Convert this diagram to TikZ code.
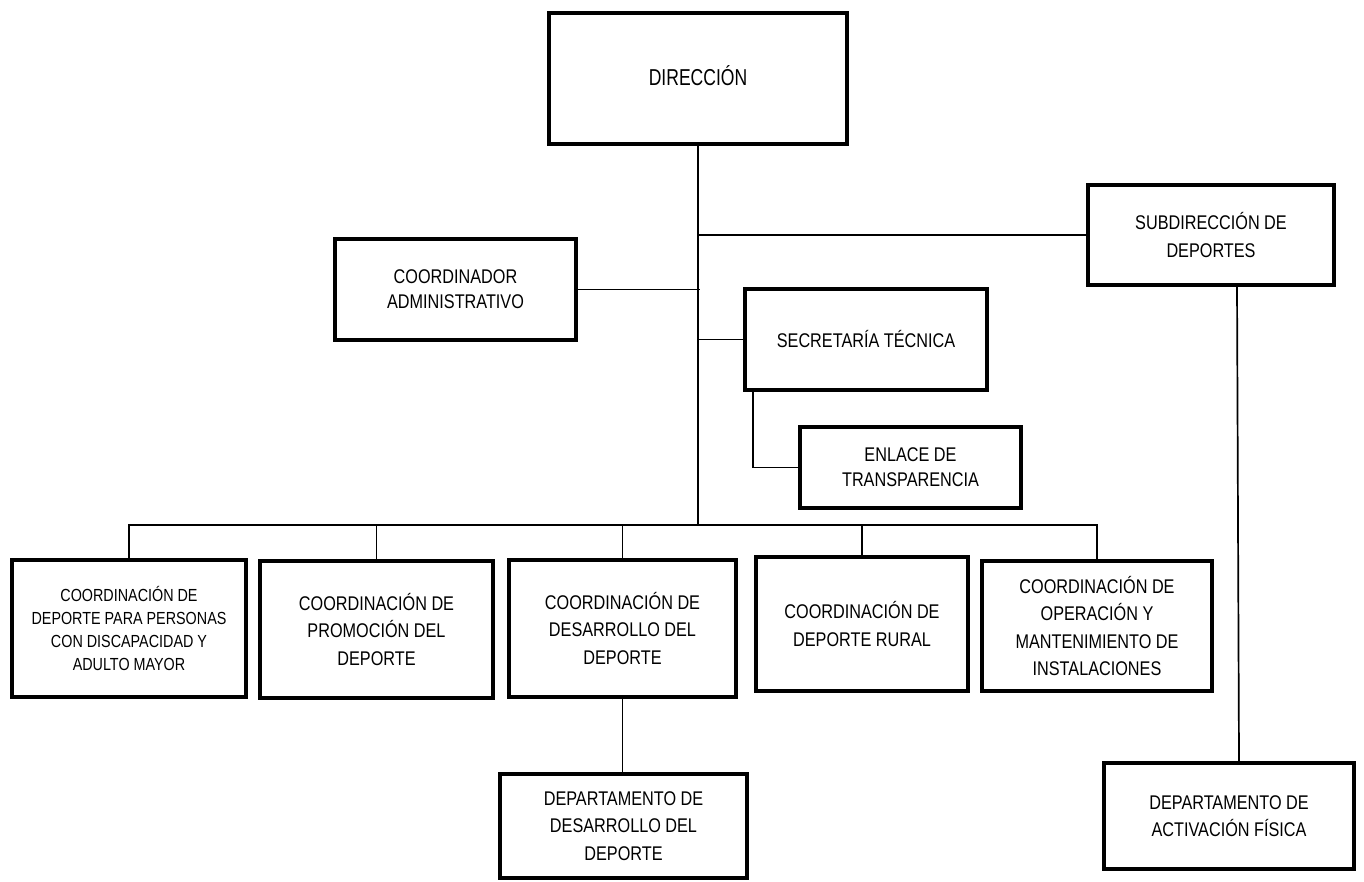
\documentclass[tikz,border=0pt]{standalone}
\usepackage{fontspec}
\setmainfont{Liberation Sans}[FakeStretch=0.82]
\begin{document}
\begin{tikzpicture}[x=1pt,y=-1pt,
  orgbox/.style={draw=black, line width=4pt, rectangle, inner sep=0pt, align=center,
    font=\fontsize{19.8}{27.5}\selectfont},
  tight/.style={font=\fontsize{19.8}{25}\selectfont},
  link/.style={draw=black, line width=1.7pt}]
\useasboundingbox (0,0) rectangle (1364,882);
\node[orgbox, minimum width=298, minimum height=131, font=\fontsize{23}{26}\selectfont] (dir) at (698,78.5) {\raisebox{6pt}{\scalebox{0.93}[1]{DIRECCIÓN}}};
\node[orgbox, minimum width=246, minimum height=100] (sub) at (1211,235) {SUBDIRECCIÓN DE\\DEPORTES};
\node[orgbox, tight, minimum width=241, minimum height=101] (coord) at (455.5,289.5) {COORDINADOR\\ADMINISTRATIVO};
\node[orgbox, minimum width=242, minimum height=101] (sec) at (866,339.5) {SECRETARÍA TÉCNICA};
\node[orgbox, tight, minimum width=221, minimum height=81] (enl) at (910.5,467.5) {ENLACE DE\\TRANSPARENCIA};
\node[orgbox, minimum width=234, minimum height=137, font=\fontsize{17.5}{23}\selectfont] (c1) at (129,628.5) {COORDINACIÓN DE\\DEPORTE PARA PERSONAS\\CON DISCAPACIDAD Y\\ADULTO MAYOR};
\node[orgbox, minimum width=233, minimum height=137] (c2) at (376.5,629.5) {COORDINACIÓN DE\\PROMOCIÓN DEL\\DEPORTE};
\node[orgbox, minimum width=227, minimum height=137] (c3) at (622.5,628.5) {COORDINACIÓN DE\\DESARROLLO DEL\\DEPORTE};
\node[orgbox, minimum width=212, minimum height=134] (c4) at (862,624) {COORDINACIÓN DE\\DEPORTE RURAL};
\node[orgbox, minimum width=230, minimum height=130] (c5) at (1097,626) {COORDINACIÓN DE\\OPERACIÓN Y\\MANTENIMIENTO DE\\INSTALACIONES};
\node[orgbox, minimum width=247, minimum height=104] (dd) at (623.5,826) {DEPARTAMENTO DE\\DESARROLLO DEL\\DEPORTE};
\node[orgbox, minimum width=250, minimum height=106] (da) at (1229,816) {DEPARTAMENTO DE\\ACTIVACIÓN FÍSICA};
\coordinate (bus) at (698,525);
% trunk
\draw[link] (dir.south) -- (bus);
\draw[link] (sub.west) -- (sub.west -| dir.south);
\draw[link] (coord.east) -- ([xshift=2pt]coord.east -| dir.south);
\draw[link] (sec.west) -- (sec.west -| dir.south);
\draw[link] ([xshift=10pt]sec.south west) |- (enl.west);
% bus
\draw[link] (c1.north) |- (bus) -| (c5.north);
\draw[link] (c2.north) -- (c2.north |- bus);
\draw[link] (c3.north) -- (c3.north |- bus);
\draw[link] (c4.north) -- (c4.north |- bus);
\draw[link] (c3.south) -- (c3.south |- dd.north);
\draw[link] ([xshift=26pt]sub.south) -- ([xshift=10pt]da.north);
\end{tikzpicture}
\end{document}
